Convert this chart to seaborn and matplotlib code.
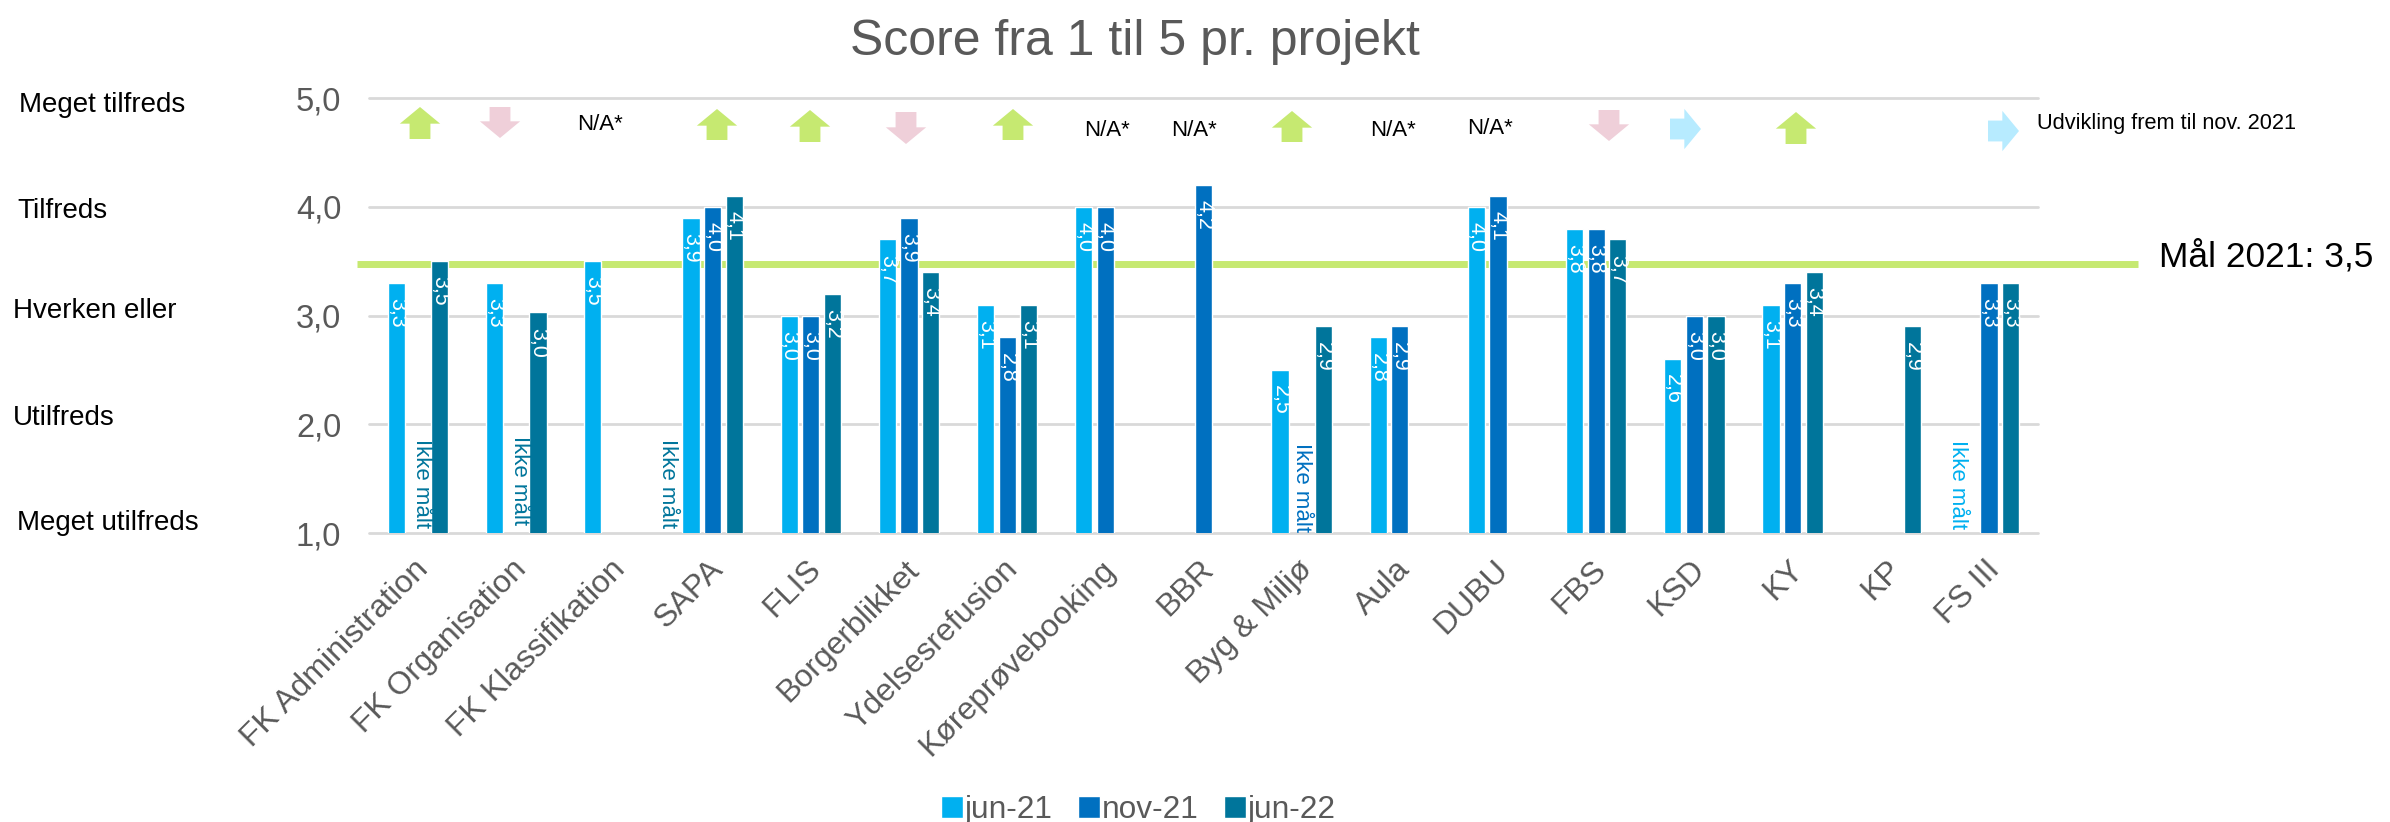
import numpy as np
import pandas as pd
import matplotlib
matplotlib.use("Agg")
import matplotlib.pyplot as plt
from matplotlib.transforms import ScaledTranslation
import seaborn as sns

W, H = 2390, 822

categories = ["FK Administration", "FK Organisation", "FK Klassifikation", "SAPA", "FLIS",
              "Borgerblikket", "Ydelsesrefusion", "Køreprøvebooking", "BBR", "Byg & Miljø",
              "Aula", "DUBU", "FBS", "KSD", "KY", "KP", "FS III"]
nan = np.nan
jun21 = [3.3, 3.3, 3.5, 3.9, 3.0, 3.7, 3.1, 4.0, nan, 2.5, 2.8, 4.0, 3.8, 2.6, 3.1, nan, nan]
nov21 = [nan, nan, nan, 4.0, 3.0, 3.9, 2.8, 4.0, 4.2, nan, 2.9, 4.1, 3.8, 3.0, 3.3, nan, 3.3]
jun22 = [3.5, 3.03, nan, 4.1, 3.2, 3.4, 3.1, nan, nan, 2.9, nan, nan, 3.7, 3.0, 3.4, 2.9, 3.3]
series_names = ["jun-21", "nov-21", "jun-22"]
series_colors = ["#00B0F0", "#0070C0", "#00759B"]
yticks = [1, 2, 3, 4, 5]
ytick_labels = ["1,0", "2,0", "3,0", "4,0", "5,0"]
satisfaction = ["Meget tilfreds", "Tilfreds", "Hverken eller", "Utilfreds", "Meget utilfreds"]
goal_y = 3.47

GREY = "#595959"
GREEN = "#C6E971"
PINK = "#EFCFD9"
SKY = "#B7EBFF"
SANS = ["Liberation Sans", "DejaVu Sans"]

sns.set_theme(style="white")
plt.rcParams["font.family"] = SANS

df = pd.DataFrame({"Projekt": categories, series_names[0]: jun21,
                   series_names[1]: nov21, series_names[2]: jun22})
long = df.melt(id_vars="Projekt", var_name="Måling", value_name="Score")

fig = plt.figure(figsize=(W / 100, H / 100), dpi=100, facecolor="white")
ax = fig.add_axes([369 / W, 1 - 533 / H, (2038 - 369) / W, (533 - 98) / H])


def fx(px):
    return px / W


def fy(py):
    return 1 - py / H


sns.barplot(data=long, x="Projekt", y="Score", hue="Måling", hue_order=series_names,
            order=categories, palette=series_colors, saturation=1, width=0.66, gap=0.2,
            errorbar=None, ax=ax, zorder=3)
ax.set_ylim(1, 5)
ax.set_xlim(-0.5, 16.5)
ax.set_xlabel("")
ax.set_ylabel("")
ax.set_yticks(yticks, ytick_labels)
ax.tick_params(axis="y", length=0, pad=20, labelsize=23.5, labelcolor=GREY)
ax.tick_params(axis="x", length=0, pad=23, labelsize=23, labelcolor=GREY)
label_shift = ScaledTranslation(6 / 100, 0, fig.dpi_scale_trans)
for t in ax.get_xticklabels():
    t.set_rotation(45)
    t.set_ha("right")
    t.set_va("center")
    t.set_rotation_mode("anchor")
    t.set_transform(t.get_transform() + label_shift)
sns.despine(ax=ax, left=True, bottom=True, top=True, right=True)
ax.grid(axis="y", color="#D9D9D9", lw=2)
ax.grid(axis="x", visible=False)
ax.set_axisbelow(True)
for s in ax.spines.values():
    s.set_visible(False)
for gl in ax.get_ygridlines():
    gl.set_clip_on(False)

# goal line (under the bars, runs past the plot area)
ax.plot([-0.62, 17.52], [goal_y, goal_y], color=GREEN, lw=5, solid_capstyle="butt",
        clip_on=False, zorder=2)

for c in ax.containers:
    labels = ax.bar_label(c, fmt=lambda v: f"{v:.1f}".replace(".", ","), rotation=-90, color="white",
                          fontsize=15.5, padding=-11)
    for t in labels:
        t.set_va("top")

# title and free texts
fig.text(fx(1135), fy(42), "Score fra 1 til 5 pr. projekt", color=GREY, fontsize=36,
         ha="center", va="center")
for label, xx, yy in zip(satisfaction, [19, 17, 13, 13, 17], [105, 211, 311, 418, 523]):
    fig.text(fx(xx), fy(yy), label, color="black", fontsize=20, ha="left", va="center")
fig.text(fx(2159), fy(257), "Mål 2021: 3,5", color="black", fontsize=25.5, ha="left", va="center")
fig.text(fx(2037), fy(124), "Udvikling frem til nov. 2021", color="black", fontsize=15.7,
         ha="left", va="center")
for xx, yy in [(600, 125), (1107, 130), (1194, 130), (1393, 131), (1490, 128)]:
    fig.text(fx(xx), fy(yy), "N/A*", color="black", fontsize=16, ha="center", va="center")

# "Ikke målt" notes
for xx, yy, col in [(421, 484, series_colors[2]), (520, 481, series_colors[2]),
                    (668, 484, series_colors[2]), (1301, 488, series_colors[1]),
                    (1957, 485, series_colors[0])]:
    fig.text(fx(xx), fy(yy), "Ikke målt", color=col, fontsize=16, rotation=-90,
             ha="center", va="center")


# development arrows
def arrow(start, end, color):
    ax.annotate("", xy=(fx(end[0]), fy(end[1])), xytext=(fx(start[0]), fy(start[1])),
                xycoords="figure fraction", textcoords="figure fraction", annotation_clip=False,
                arrowprops=dict(facecolor=color, edgecolor="none", width=15, headwidth=29,
                                headlength=12, shrink=0), zorder=5)


for xx, top, bot in [(420, 107, 139), (717, 109, 140), (810, 110, 142), (1013, 109, 140),
                     (1292, 111, 142), (1796, 112, 144)]:
    arrow((xx, bot), (xx, top), GREEN)
for xx, top, bot in [(500, 107, 138), (906, 112, 144), (1609, 110, 141)]:
    arrow((xx, top), (xx, bot), PINK)
for left, right, yy in [(1670, 1701, 129), (1988, 2019, 131)]:
    arrow((left, yy), (right, yy), SKY)

# legend
sns.move_legend(ax, "center", bbox_to_anchor=(fx(1138), fy(810)), bbox_transform=fig.transFigure,
                ncol=3, title=None, frameon=False, fontsize=22.8, labelcolor=GREY,
                handlelength=0.7, handleheight=0.7, handletextpad=0.05, columnspacing=0.8)

fig.savefig("out.png", dpi=100, facecolor="white")
